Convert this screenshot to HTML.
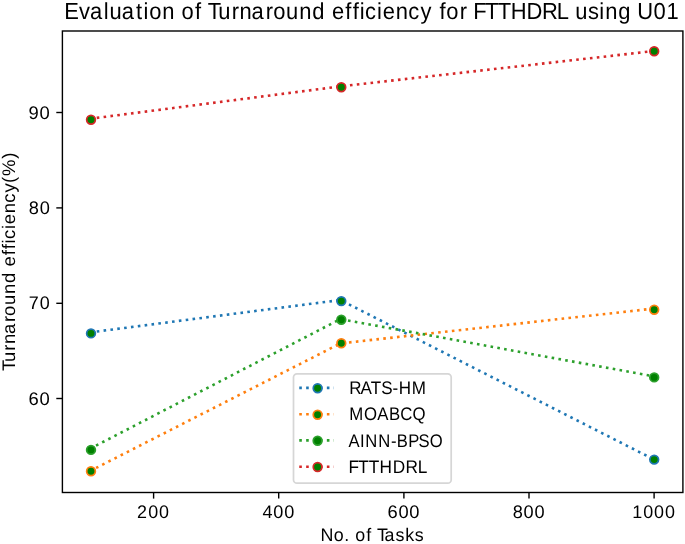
<!DOCTYPE html>
<html><head><meta charset="utf-8"><title>Evaluation of Turnaround efficiency for FTTHDRL using U01</title>
<style>html,body{margin:0;padding:0;background:#fff;width:685px;height:544px;overflow:hidden}svg{display:block;will-change:transform}text{font-family:"Liberation Sans",sans-serif;font-variant-ligatures:none;font-kerning:none;white-space:pre;text-rendering:geometricPrecision}</style>
</head><body>
<svg width="685" height="544" viewBox="0 0 685 544" font-family="'Liberation Sans', sans-serif" fill="#000">
<rect width="685" height="544" fill="#fff"/>
<rect x="62.4" y="31.0" width="620.5" height="461.5" fill="none" stroke="#000" stroke-width="1.4"/>
<g stroke="#000" stroke-width="1.4"><line x1="153.6" y1="492.5" x2="153.6" y2="498.6"/><line x1="278.7" y1="492.5" x2="278.7" y2="498.6"/><line x1="403.9" y1="492.5" x2="403.9" y2="498.6"/><line x1="529.0" y1="492.5" x2="529.0" y2="498.6"/><line x1="654.1" y1="492.5" x2="654.1" y2="498.6"/><line x1="62.4" y1="398.5" x2="56.3" y2="398.5"/><line x1="62.4" y1="303.3" x2="56.3" y2="303.3"/><line x1="62.4" y1="207.9" x2="56.3" y2="207.9"/><line x1="62.4" y1="112.5" x2="56.3" y2="112.5"/></g>
<g><text id="xt0" x="139.28 150.58 161.65" y="517.8" font-size="18.2" transform="scale(0.9839,1)">200</text><text id="xt1" x="263.81 274.62 285.56" y="517.8" font-size="18.2" transform="scale(0.9955,1)">400</text><text id="xt2" x="384.84 395.78 406.6" y="517.8" font-size="18.2" transform="scale(1.0068,1)">600</text><text id="xt3" x="513.18 524.08 534.98" y="517.8" font-size="18.2" transform="scale(0.9990,1)">800</text><text id="xt4" x="641.68 652.83 663.88 674.94" y="517.8" font-size="18.2" transform="scale(0.9852,1)">1000</text><text id="yt0" x="28.23 39.1" y="404.6" font-size="18.2" transform="scale(1.0126,1)">60</text><text id="yt1" x="29.25 40.34" y="309.4" font-size="18.2" transform="scale(0.9849,1)">70</text><text id="yt2" x="28.74 39.62" y="214" font-size="18.2" transform="scale(1.0008,1)">80</text><text id="yt3" x="28.21 39.15" y="118.6" font-size="18.2" transform="scale(1.0116,1)">90</text></g>
<text id="xlabel" x="326.32 339.91 350.46 356.03 361.64 372.98 378.64 383.74 391.56 402.78 412.53 422.24" y="541.4" font-size="18.2" transform="scale(0.9822,1)">No. of Tasks</text>
<g transform="translate(15.1,0) rotate(-90)"><text id="ylabel" x="-365.41 -356.77 -345.47 -339.01 -329.07 -317.35 -311.23 -300.52 -289.63 -278.95 -268.09 -262.65 -251.49 -245.47 -239.79 -235.42 -225.54 -220.88 -210.04 -199.67 -189.66 -180.24 -173.43 -156.35" y="0" font-size="18.2" transform="scale(1.0150,1)">Turnaround efficiency(%)</text></g>
<text id="title" x="67.99 83.4 95.19 109.65 115.83 128.64 143.66 151.68 157.66 171.38 184.92 191.91 205.99 213.11 219.45 230.56 245 253.18 265.9 280.96 288.72 302.35 316.27 329.94 343.78 350.84 364.99 372.76 380.09 385.77 398.4 404.46 418.23 431.48 444.32 456.93 464.57 471.69 485.93 494.21 500.11 512.8 525.98 539.79 556.49 572.84 588.51 600.91 608.08 621.53 633.4 639.66 653.32 667.17 673.54 690.61 704.46" y="18.5" font-size="23.2" transform="scale(0.9462,1)">Evaluation of Turnaround efficiency for FTTHDRL using U01</text>
<g><polyline points="89.9,332.43 340.4,300 653.53,459.27" fill="none" stroke="#1f77b4" stroke-width="2.6" stroke-dasharray="2.6 4.3"/><circle cx="91.0" cy="333.4" r="4.34" fill="#008000" stroke="#1f77b4" stroke-width="1.74"/><circle cx="341.3" cy="301.1" r="4.34" fill="#008000" stroke="#1f77b4" stroke-width="1.74"/><circle cx="654.2" cy="459.6" r="4.34" fill="#008000" stroke="#1f77b4" stroke-width="1.74"/><polyline points="89.9,471.1 340.4,343.4 653.53,308.59" fill="none" stroke="#ff7f0e" stroke-width="2.6" stroke-dasharray="2.6 4.3"/><circle cx="91.0" cy="471.2" r="4.34" fill="#008000" stroke="#ff7f0e" stroke-width="1.74"/><circle cx="341.3" cy="343.2" r="4.34" fill="#008000" stroke="#ff7f0e" stroke-width="1.74"/><circle cx="654.2" cy="309.7" r="4.34" fill="#008000" stroke="#ff7f0e" stroke-width="1.74"/><polyline points="89.9,448.78 340.4,319.08 653.53,376.3" fill="none" stroke="#2ca02c" stroke-width="2.6" stroke-dasharray="2.6 4.3"/><circle cx="91.0" cy="449.9" r="4.34" fill="#008000" stroke="#2ca02c" stroke-width="1.74"/><circle cx="341.3" cy="319.7" r="4.34" fill="#008000" stroke="#2ca02c" stroke-width="1.74"/><circle cx="654.2" cy="377.4" r="4.34" fill="#008000" stroke="#2ca02c" stroke-width="1.74"/><polyline points="89.9,118.8 340.4,86.37 653.53,51.09" fill="none" stroke="#d62728" stroke-width="2.6" stroke-dasharray="2.6 4.3"/><circle cx="91.0" cy="119.8" r="4.34" fill="#008000" stroke="#d62728" stroke-width="1.74"/><circle cx="341.3" cy="87.3" r="4.34" fill="#008000" stroke="#d62728" stroke-width="1.74"/><circle cx="654.2" cy="51.2" r="4.34" fill="#008000" stroke="#d62728" stroke-width="1.74"/></g>
<g><rect x="293.5" y="373.8" width="157.7" height="109.4" rx="3.5" fill="#fff" fill-opacity="0.8" stroke="#d6d6d6" stroke-width="1.74"/><line x1="299.25" y1="387.9" x2="333.97" y2="387.9" stroke="#1f77b4" stroke-width="2.6" stroke-dasharray="2.6 4.3"/><circle cx="317.6" cy="388.2" r="4.34" fill="#008000" stroke="#1f77b4" stroke-width="1.74"/><text id="lg0" x="372.81 384.88 395.79 406.91 418.93 425.68 439.52" y="394" font-size="18.2" transform="scale(0.9367,1)">RATS-HM</text><line x1="299.25" y1="414.2" x2="333.97" y2="414.2" stroke="#ff7f0e" stroke-width="2.6" stroke-dasharray="2.6 4.3"/><circle cx="317.6" cy="414.7" r="4.34" fill="#008000" stroke="#ff7f0e" stroke-width="1.74"/><text id="lg1" x="379.11 395.08 409.55 422.25 434.33 447.7" y="420.3" font-size="18.2" transform="scale(0.9214,1)">MOABCQ</text><line x1="299.25" y1="440.4" x2="333.97" y2="440.4" stroke="#2ca02c" stroke-width="2.6" stroke-dasharray="2.6 4.3"/><circle cx="317.6" cy="440.8" r="4.34" fill="#008000" stroke="#2ca02c" stroke-width="1.74"/><text id="lg2" x="381.38 394.1 399.84 414.02 428.11 434.32 446.85 458.26 470.47" y="446.5" font-size="18.2" transform="scale(0.9135,1)">AINN-BPSO</text><line x1="299.25" y1="466.8" x2="333.97" y2="466.8" stroke="#d62728" stroke-width="2.6" stroke-dasharray="2.6 4.3"/><circle cx="317.6" cy="467.0" r="4.34" fill="#008000" stroke="#d62728" stroke-width="1.74"/><text id="lg3" x="367.45 377.92 388.82 400.23 414.06 427.53 440.48" y="472.9" font-size="18.2" transform="scale(0.9483,1)">FTTHDRL</text></g>
</svg>
</body></html>
